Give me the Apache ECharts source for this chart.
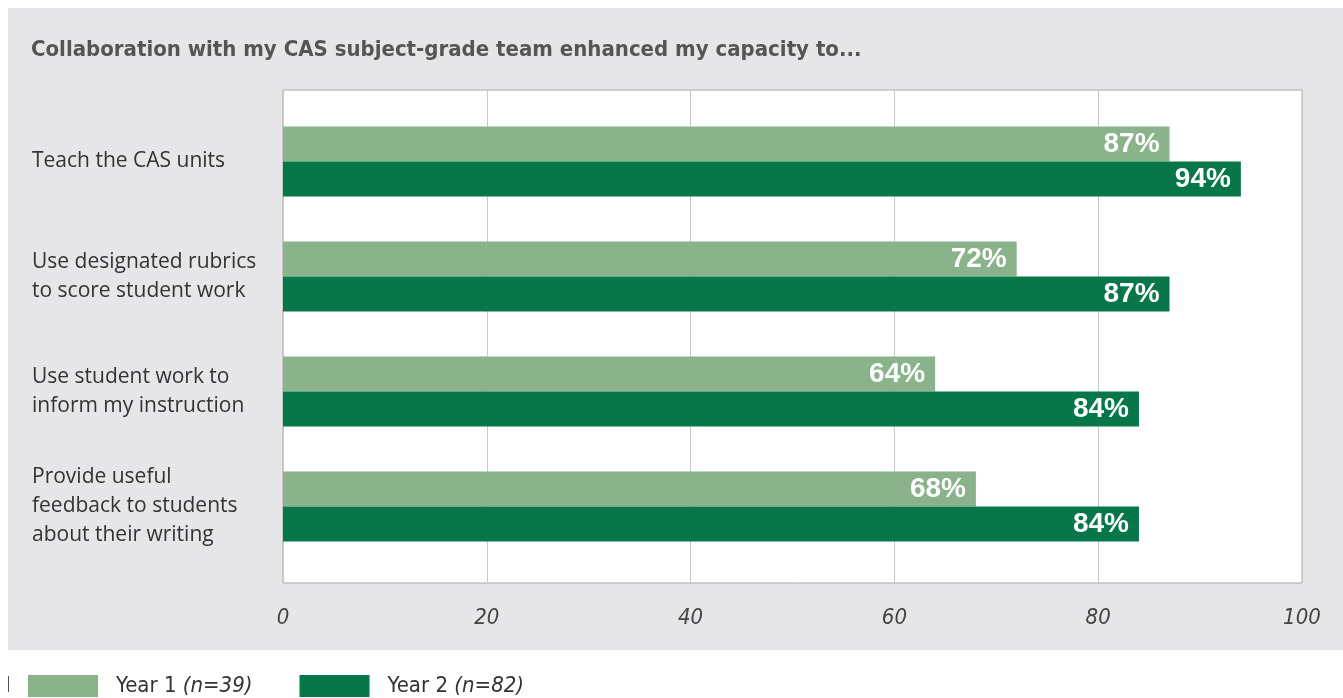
<!DOCTYPE html>
<html>
<head>
<meta charset="utf-8">
<script src="https://cdn.jsdelivr.net/npm/echarts@6/dist/echarts.min.js"></script>
<style>
  html, body { margin: 0; padding: 0; background: #fff; }
  #chart { width: 1343px; height: 698px; }
</style>
</head>
<body>
<div id="chart"></div>
<script>
// data
var categories = [
    'Teach the CAS units',
    'Use designated rubrics\nto score student work',
    'Use student work to\ninform my instruction',
    'Provide useful\nfeedback to students\nabout their writing'
];
var year1 = [87, 72, 64, 68];
var year2 = [94, 87, 84, 84];
var xTicks = [0, 20, 40, 60, 80, 100];

var LIGHT = '#8ab28b';
var DARK = '#07774a';
var NARROW = 'Liberation Sans Narrow, DejaVu Sans Condensed, sans-serif';

var chart = echarts.init(document.getElementById('chart'));

var barLabel = {
    show: true,
    position: 'insideRight',
    distance: 10,
    color: '#fff',
    fontFamily: 'Liberation Sans, Arial',
    fontWeight: 'bold',
    fontSize: 28,
    formatter: '{c}%'
};

var option = {
    animation: false,
    graphic: {
        elements: [
            { type: 'rect', z: -10, shape: { x: 8, y: 8, width: 1340, height: 642 }, style: { fill: '#e6e6e8' } },
            { type: 'line', shape: { x1: 8.5, y1: 676, x2: 8.5, y2: 692 }, style: { stroke: '#555', lineWidth: 1 } }
        ]
    },
    title: {
        text: 'Collaboration with my CAS subject-grade team enhanced my capacity to...',
        left: 26, top: 34,
        textStyle: {
            fontFamily: NARROW,
            fontWeight: 'bold', fontSize: 22, color: '#555'
        }
    },
    legend: {
        left: 28, top: 675, padding: 0,
        itemWidth: 70, itemHeight: 22, itemGap: 47,
        icon: 'rect',
        data: ['Year 1', 'Year 2'],
        formatter: function (name) {
            return name === 'Year 1' ? 'Year 1 {i|(n=39)}' : 'Year 2 {i|(n=82)}';
        },
        textStyle: {
            fontFamily: NARROW,
            fontSize: 22, color: '#333', padding: [0, 0, 0, 13],
            rich: { i: { fontStyle: 'italic', fontSize: 22, color: '#333', fontFamily: NARROW } }
        }
    },
    grid: [
        { left: 283, top: 90, width: 1019, height: 493, show: true, backgroundColor: '#fff',
          borderColor: '#a8a8a8', borderWidth: 1 },
        { left: 283, top: 104, width: 1019, height: 460 }
    ],
    xAxis: [
        {
            gridIndex: 0, type: 'value', min: 0, max: 100, interval: 20,
            axisLine: { show: false }, axisTick: { show: false },
            splitLine: { lineStyle: { color: '#c8c8c8' } },
            axisLabel: {
                margin: 24,
                fontFamily: NARROW,
                fontStyle: 'italic', fontSize: 22, color: '#444',
                customValues: xTicks
            }
        },
        {
            gridIndex: 1, type: 'value', min: 0, max: 100, show: false
        }
    ],
    yAxis: [
        { gridIndex: 0, type: 'category', data: categories, show: false },
        {
            gridIndex: 1, type: 'category', data: categories, inverse: true,
            axisLine: { show: false }, axisTick: { show: false },
            axisLabel: {
                align: 'left', margin: 251,
                fontFamily: 'Open Sans, sans-serif', fontSize: 21, color: '#333',
                lineHeight: 29
            }
        }
    ],
    series: [
        {
            name: 'Year 1', type: 'bar', xAxisIndex: 1, yAxisIndex: 1,
            data: year1, barWidth: 35, barGap: '0%',
            itemStyle: { color: LIGHT }, label: barLabel
        },
        {
            name: 'Year 2', type: 'bar', xAxisIndex: 1, yAxisIndex: 1,
            data: year2, barWidth: 35, barGap: '0%',
            itemStyle: { color: DARK }, label: barLabel
        }
    ]
};

chart.setOption(option);
</script>
</body>
</html>
